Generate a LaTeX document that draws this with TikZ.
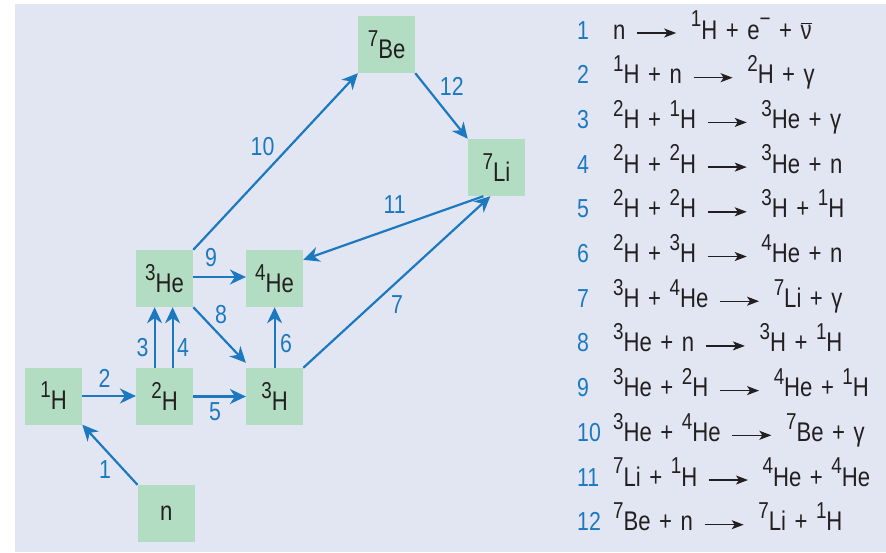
\documentclass[tikz,border=0pt]{standalone}
\usepackage{fontspec}
\setmainfont{Liberation Sans}[FakeStretch=0.82]
\usepackage{graphicx}
\usetikzlibrary{arrows.meta,positioning}

\definecolor{panel}{HTML}{E2E6F3}
\definecolor{boxgreen}{HTML}{B2DDC3}
\definecolor{flow}{HTML}{1C79C0}
\definecolor{ink}{HTML}{231F20}

\newcommand{\up}[1]{\raisebox{0.45em}{\scalebox{0.85}{#1}}}
\newcommand{\yields}{\hspace{11pt}\tikz[baseline=0pt]\draw[ink,line width=1.4pt,-{Stealth[length=12pt,width=9pt,inset=3pt]}] (0pt,6pt) -- (39pt,6pt);\hspace{14pt}}
\newcommand{\eqfont}{\fontsize{27}{32}\selectfont\spaceskip 8.5pt plus 1pt\relax}

\tikzset{
  nuclide/.style={fill=boxgreen, text=ink, minimum width=57pt, minimum height=57pt,
    inner sep=0pt, font=\fontsize{27}{32}\selectfont},
  flowline/.style={draw=flow, line width=2.2pt, -{Stealth[length=16pt,width=15pt,inset=5pt]}},
  rlabel/.style={text=flow, inner sep=0pt, font=\fontsize{26}{31}\selectfont},
  rnum/.style={rlabel, anchor=base west},
  reaction/.style={text=ink, inner sep=0pt, anchor=base west, font=\eqfont}
}

\begin{document}
\begin{tikzpicture}[x=1pt,y=-1pt]
  \useasboundingbox (0,0) rectangle (886,552);
  % Panel
  \fill[panel] (15,4) rectangle (886,552);

  % Nuclides
  \node[nuclide] (Be7) at (386.6,44.5) {\up{7}Be};
  \node[nuclide] (Li7) at (496.4,167.5) {\up{7}Li};
  \node[nuclide] (He3) at (164.6,278.5) {\up{3}He};
  \node[nuclide] (He4) at (274.6,278.5) {\up{4}He};
  \node[nuclide] (H1) at (53.6,396) {\up{1}H};
  \node[nuclide] (H2) at (164.6,396.5) {\up{2}H};
  \node[nuclide] (H3) at (274.6,396.5) {\up{3}H};
  \node[nuclide] (neutron) at (166.2,513.5) {n};

  % Reactions
  \draw[flowline] (neutron.north west) -- (H1.south east);
  \draw[flowline] (H1.east) -- (H1.east -| H2.west);
  \draw[flowline] ([xshift=-10pt]H2.north) -- ([xshift=-10pt]He3.south);
  \draw[flowline] ([xshift=8pt]H2.north) -- ([xshift=8pt]He3.south);
  \draw[flowline] (H2.east) -- (H3.west);
  \draw[flowline] (H3.north) -- (He4.south);
  \draw[flowline] (H3.north east) -- ([xshift=-6pt]Li7.south);
  \draw[flowline] (He3.south east) -- ([yshift=5pt]H3.north west);
  \draw[flowline] ([yshift=1.5pt]He3.east) -- ([yshift=1.5pt]He4.west);
  \draw[flowline] (He3.north east) -- (Be7.south west);
  \draw[flowline] ([xshift=-13pt]Li7.south) -- ([yshift=-10pt]He4.north east);
  \draw[flowline] (Be7.south east) -- (Li7.north west);

  % Reaction numbers
  \node[rlabel] (t1) at (105,470) {1};
  \node[rlabel] (t2) at (104.6,378) {2};
  \node[rlabel] (t3) at (142.5,348) {3};
  \node[rlabel] (t4) at (183,348) {4};
  \node[rlabel] (t5) at (215,412) {5};
  \node[rlabel] (t6) at (286,344) {6};
  \node[rlabel] (t7) at (397,305) {7};
  \node[rlabel] (t8) at (221,315) {8};
  \node[rlabel] (t9) at (211,258) {9};
  \node[rlabel] (t10) at (262.5,147) {10};
  \node[rlabel] (t11) at (394.6,205) {11};
  \node[rlabel] (t12) at (451.8,86) {12};

  % Key
  \node[rnum] (k1) at (577,39) {1};
  \node[reaction] (r1) at (613,39) {n\yields\up{1}H + e\up{−} + $\overline{\hbox{ν}}$};
  \node[rnum] (k2) at (577,83.7) {2};
  \node[reaction] (r2) at (613,83.7) {\up{1}H + n\yields\up{2}H + γ};
  \node[rnum] (k3) at (577,128.4) {3};
  \node[reaction] (r3) at (613,128.4) {\up{2}H + \up{1}H\yields\up{3}He + γ};
  \node[rnum] (k4) at (577,173.1) {4};
  \node[reaction] (r4) at (613,173.1) {\up{2}H + \up{2}H\yields\up{3}He + n};
  \node[rnum] (k5) at (577,217.8) {5};
  \node[reaction] (r5) at (613,217.8) {\up{2}H + \up{2}H\yields\up{3}H + \up{1}H};
  \node[rnum] (k6) at (577,262.5) {6};
  \node[reaction] (r6) at (613,262.5) {\up{2}H + \up{3}H\yields\up{4}He + n};
  \node[rnum] (k7) at (577,307.2) {7};
  \node[reaction] (r7) at (613,307.2) {\up{3}H + \up{4}He\yields\up{7}Li + γ};
  \node[rnum] (k8) at (577,351.9) {8};
  \node[reaction] (r8) at (613,351.9) {\up{3}He + n\yields\up{3}H + \up{1}H};
  \node[rnum] (k9) at (577,396.6) {9};
  \node[reaction] (r9) at (613,396.6) {\up{3}He + \up{2}H\yields\up{4}He + \up{1}H};
  \node[rnum] (k10) at (577,441.3) {10};
  \node[reaction] (r10) at (613,441.3) {\up{3}He + \up{4}He\yields\up{7}Be + γ};
  \node[rnum] (k11) at (577,486) {11};
  \node[reaction] (r11) at (613,486) {\up{7}Li + \up{1}H\yields\up{4}He + \up{4}He};
  \node[rnum] (k12) at (577,530.7) {12};
  \node[reaction] (r12) at (613,530.7) {\up{7}Be + n\yields\up{7}Li + \up{1}H};
\end{tikzpicture}
\end{document}
